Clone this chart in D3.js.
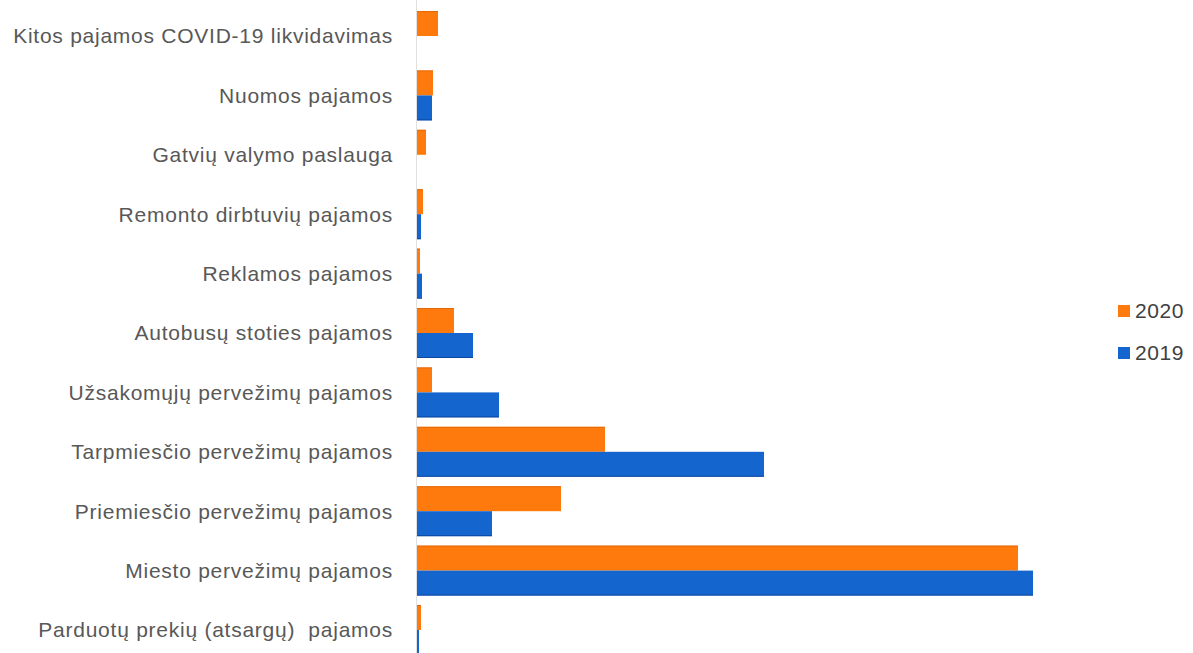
<!DOCTYPE html>
<html>
<head>
<meta charset="utf-8">
<script src="https://cdn.jsdelivr.net/npm/d3@7"></script>
<style>
  html, body { margin: 0; padding: 0; background: #fff; overflow: hidden; }
  svg { display: block; }
  text { font-family: "Liberation Sans", Arial, sans-serif; }
</style>
</head>
<body>
<svg id="chart" width="1193" height="653"></svg>
<script>
const categories = [
  "Kitos pajamos COVID-19 likvidavimas",
  "Nuomos pajamos",
  "Gatvių valymo paslauga",
  "Remonto dirbtuvių pajamos",
  "Reklamos pajamos",
  "Autobusų stoties pajamos",
  "Užsakomųjų pervežimų pajamos",
  "Tarpmiesčio pervežimų pajamos",
  "Priemiesčio pervežimų pajamos",
  "Miesto pervežimų pajamos",
  "Parduotų prekių (atsargų)  pajamos"
];
const values2020 = [210, 160, 90, 60, 30, 370, 150, 1880, 1440, 6010, 40];
const values2019 = [0, 150, 0, 40, 50, 560, 820, 3470, 750, 6160, 20];
const seriesNames = ["2020", "2019"];
const seriesColors = ["#FF7A0C", "#1565CF"];
const seriesEdge = ["#D9630A", "#0A3C8C"];

const svg = d3.select("#chart");
const x0 = 417, xMaxPx = 1033;
const x = d3.scaleLinear().domain([0, d3.max(values2019.concat(values2020))]).range([x0, xMaxPx]);
const y = d3.scaleBand().domain(categories).range([6.3, 659.7]).paddingInner(0.158).paddingOuter(0.079);
const ySub = d3.scaleBand().domain(seriesNames).range([0, y.bandwidth()]);

const data = categories.map((c, i) => ({ cat: c, vals: [values2020[i], values2019[i]] }));

// axis line
svg.append("line")
  .attr("x1", x(0) - 0.5).attr("x2", x(0) - 0.5)
  .attr("y1", 0).attr("y2", 653)
  .attr("stroke", "#e0e0e0").attr("stroke-width", 1);

const g = svg.selectAll("g.cat").data(data).enter().append("g")
  .attr("transform", d => `translate(0,${y(d.cat)})`);

seriesNames.forEach((s, si) => {
  g.filter(d => d.vals[si] > 0).append("rect")
    .attr("x", x(0))
    .attr("y", ySub(s))
    .attr("width", d => x(d.vals[si]) - x(0))
    .attr("height", ySub.bandwidth())
    .attr("fill", seriesColors[si]);
  g.filter(d => d.vals[si] > 0).append("line")
    .attr("x1", x(0))
    .attr("x2", d => x(d.vals[si]))
    .attr("y1", si === 0 ? ySub(s) + 0.5 : ySub(s) + ySub.bandwidth() - 0.5)
    .attr("y2", si === 0 ? ySub(s) + 0.5 : ySub(s) + ySub.bandwidth() - 0.5)
    .attr("stroke", seriesEdge[si]).attr("stroke-width", 1).attr("opacity", 0.7);
});

// category labels
const yAxis = d3.axisLeft(y).tickSize(0).tickPadding(0);
const ax = svg.append("g").attr("transform", `translate(393,0)`).call(yAxis);
ax.select(".domain").remove();
ax.selectAll("text")
  .attr("font-family", "'Liberation Sans', Arial, sans-serif")
  .attr("font-size", 21)
  .attr("letter-spacing", "0.75px")
  .attr("fill", "#585858")
  .style("white-space", "pre")
  .attr("dy", "0.35em");

// legend
const legend = svg.append("g");
const legendY = d3.scalePoint().domain(seriesNames).range([311, 353]);
seriesNames.forEach((s, i) => {
  legend.append("rect")
    .attr("x", 1118).attr("y", legendY(s) - 6)
    .attr("width", 12).attr("height", 12)
    .attr("fill", seriesColors[i]);
  legend.append("text")
    .attr("x", 1135).attr("y", legendY(s))
    .attr("dy", "0.35em")
    .attr("font-size", 21)
    .attr("letter-spacing", "0.6px")
    .attr("fill", "#404040")
    .text(s);
});
</script>
</body>
</html>
